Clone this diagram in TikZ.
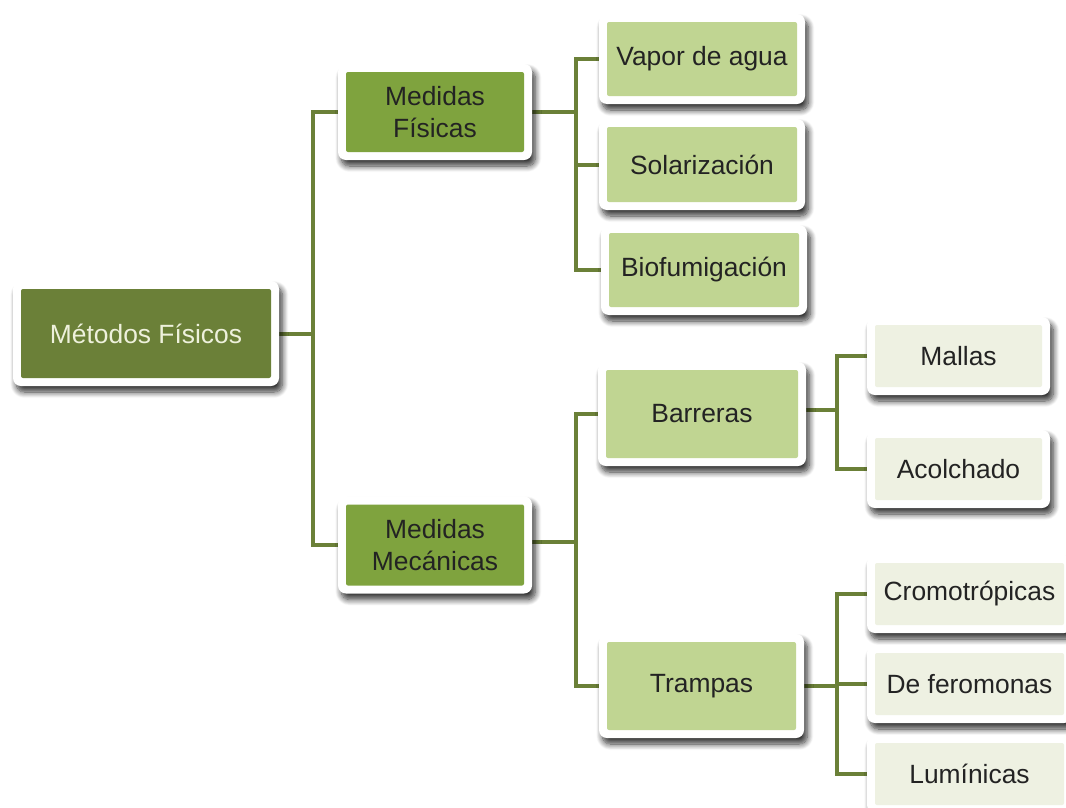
\documentclass[tikz,border=0pt]{standalone}
\usepackage{fontspec}
\setmainfont{Liberation Sans}
\usepackage{tikz}
\usetikzlibrary{positioning,backgrounds,shadows.blur}
\definecolor{rootgreen}{RGB}{107,128,56}
\definecolor{midgreen}{RGB}{127,163,62}
\definecolor{lightgreen}{RGB}{192,213,146}
\definecolor{palegreen}{RGB}{238,241,226}
\definecolor{roottext}{RGB}{238,241,220}
\definecolor{darktext}{RGB}{35,35,35}

\tikzset{
  box/.style={fill=white, rounded corners=6pt, inner sep=0pt, align=center,
    font=\fontsize{19.8}{24.5}\selectfont, text=darktext,
    path picture={\fill[#1, rounded corners=1.5pt]
      ([shift={(6pt,6pt)}]path picture bounding box.south west) rectangle
      ([shift={(-6pt,-6pt)}]path picture bounding box.north east);},
    blur shadow={shadow xshift=2.5pt, shadow yshift=-4.5pt, shadow blur radius=4.5pt, shadow blur steps=10, shadow opacity=80}},
  boxsize/.style 2 args={minimum width=(#1+16)*0.75pt, minimum height=(#2+16)*0.75pt},
  link/.style={draw=rootgreen, line width=3pt}
}

\begin{document}
\begin{tikzpicture}[x=0.75pt, y=-0.75pt]
	\useasboundingbox (0,0) rectangle (1066,807);
	% Root
	\node[box=rootgreen, boxsize={250}{89}, text=roottext] at (146,333.5) (root) {Métodos Físicos};
	% First level
	\node[box=midgreen, boxsize={178}{80}] at (435,112) (fis) {Medidas\\Físicas};
	\node[box=midgreen, boxsize={178}{81}] at (435,545) (mec) {Medidas\\Mecánicas};
	% Second level
	\node[box=lightgreen, boxsize={190}{74}] at (702,59) (vap) {Vapor de agua};
	\node[box=lightgreen, boxsize={190}{75}] at (702,164.5) (sol) {Solarización};
	\node[box=lightgreen, boxsize={190}{74}] at (704,270) (bio) {Biofumigación};
	\node[box=lightgreen, boxsize={192}{88}] at (702,414) (bar) {Barreras};
	\node[box=lightgreen, boxsize={189}{88}] at (701.5,686) (tra) {Trampas};
	% Third level
	\node[box=palegreen, boxsize={167}{62}] at (958.5,356) (mal) {Mallas};
	\node[box=palegreen, boxsize={167}{62}] at (958.5,469) (aco) {Acolchado};
	\node[box=palegreen, boxsize={189}{62}] at (969.5,594) (cro) {Cromotrópicas};
	\node[box=palegreen, boxsize={189}{62}] at (969.5,684) (fer) {De feromonas};
	\node[box=palegreen, boxsize={189}{62}] at (969.5,774) (lum) {Lumínicas};
	% Junctions
	\coordinate (jroot) at (313,333.5);
	\coordinate (jfis) at (576,112);
	\coordinate (jmec) at (576,542);
	\coordinate (jbar) at (837,410);
	\coordinate (jtra) at (837,686);
	% Connectors
	\begin{scope}[on background layer]
	\draw[link] (root.east) -- (jroot);
	\draw[link] (jroot) |- (fis.west);
	\draw[link] (jroot) |- (mec.west);
	\draw[link] (fis.east) -- (jfis);
	\draw[link] (jfis) |- (vap.west);
	\draw[link] (jfis) |- (sol.west);
	\draw[link] (jfis) |- (bio.west);
	\draw[link] (mec.east |- jmec) -- (jmec);
	\draw[link] (jmec) |- (bar.west);
	\draw[link] (jmec) |- (tra.west);
	\draw[link] (bar.east |- jbar) -- (jbar);
	\draw[link] (jbar) |- (mal.west);
	\draw[link] (jbar) |- (aco.west);
	\draw[link] (tra.east) -- (jtra);
	\draw[link] (jtra) |- (cro.west);
	\draw[link] (jtra) |- (fer.west);
	\draw[link] (jtra) |- (lum.west);
	\end{scope}
\end{tikzpicture}
\end{document}
